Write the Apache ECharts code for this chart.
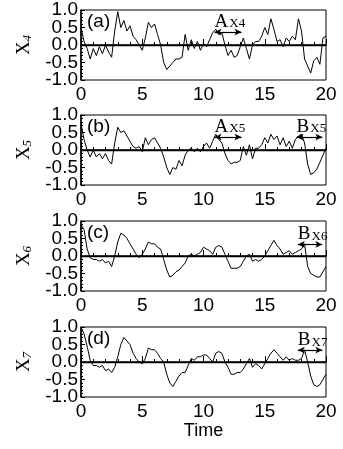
<!DOCTYPE html>
<html><head><meta charset="utf-8">
<script src="https://cdn.jsdelivr.net/npm/echarts@6/dist/echarts.min.js"></script>
<style>html,body{margin:0;padding:0;background:#fff}#c{width:343px;height:449px}</style>
</head><body><div id="c"></div>
<script>
// Time grid (step 0.25)
const time = [];
for (let i = 0; i <= 80; i++) time.push(i * 0.25);

const xTicks = [0, 5, 10, 15, 20];
const yTicks = [-1.0, -0.5, 0.0, 0.5, 1.0];
const panelLabels = ['(a)', '(b)', '(c)', '(d)'];
const varSubs = ['4', '5', '6', '7'];

const x4 = [0.5,0.1,-0.1,-0.4,-0.1,-0.3,-0.05,-0.25,0.0,-0.2,-0.35,0.4,0.95,0.5,0.7,0.4,0.55,0.25,0.15,0.0,
 -0.15,0.2,0.65,0.5,0.6,0.3,0.0,-0.5,-0.7,-0.6,-0.5,-0.4,-0.4,-0.35,0.3,-0.15,0.15,-0.1,0.1,-0.15,
 0.05,-0.05,0.15,0.35,0.45,0.3,0.35,0.0,-0.3,-0.15,-0.35,-0.3,-0.05,0.2,-0.1,-0.4,0.0,0.1,0.1,0.25,
 0.5,0.3,0.75,0.45,0.1,0.15,-0.05,0.2,0.1,0.25,0.15,0.75,0.4,-0.4,-0.6,-0.8,-0.45,-0.35,-0.55,0.2,0.25];
const x5 = [0.75,0.3,0.0,-0.2,0.0,-0.2,-0.1,-0.25,-0.1,-0.3,-0.4,0.2,0.65,0.5,0.55,0.4,0.25,0.1,0.05,0.1,
 -0.05,0.35,0.15,0.3,0.35,0.2,0.05,-0.2,-0.5,-0.7,-0.5,-0.55,-0.3,-0.45,-0.15,0.0,0.05,-0.05,0.05,-0.05,
 0.1,0.2,0.05,0.25,0.45,0.3,0.2,-0.1,-0.3,-0.4,-0.35,-0.35,-0.3,0.1,-0.15,0.15,-0.25,0.05,0.05,0.15,
 0.35,0.2,0.45,0.3,0.4,0.15,0.35,0.1,0.25,0.05,0.3,0.4,0.45,0.2,-0.4,-0.7,-0.65,-0.55,-0.35,-0.15,0.05];
const x6 = [0.9,0.75,0.2,-0.05,-0.1,-0.1,-0.15,-0.1,-0.2,-0.15,-0.3,0.0,0.4,0.65,0.6,0.5,0.35,0.2,0.05,-0.05,
 0.05,0.2,0.4,0.35,0.35,0.25,0.2,-0.1,-0.4,-0.6,-0.55,-0.45,-0.4,-0.3,-0.2,0.0,0.05,0.0,0.05,0.1,
 0.25,0.2,0.15,0.05,0.25,0.3,0.25,0.05,-0.15,-0.35,-0.35,-0.35,-0.3,-0.15,0.0,0.05,-0.15,-0.1,-0.15,-0.1,
 0.0,0.15,0.3,0.45,0.3,0.2,0.05,0.1,0.15,0.05,0.1,0.15,0.2,0.35,-0.3,-0.5,-0.55,-0.6,-0.6,-0.45,-0.3];
const x7 = [1.0,0.8,0.45,0.05,-0.1,-0.1,-0.15,-0.1,-0.25,-0.2,-0.3,-0.15,0.15,0.5,0.7,0.6,0.5,0.25,0.1,0.0,
 -0.05,0.1,0.4,0.35,0.35,0.25,0.1,0.0,-0.35,-0.6,-0.7,-0.55,-0.4,-0.3,-0.3,-0.1,0.1,0.05,0.15,0.15,
 0.2,0.2,0.1,0.0,0.25,0.3,0.25,0.0,-0.15,-0.35,-0.35,-0.3,-0.3,-0.2,-0.05,0.1,-0.15,-0.05,-0.1,-0.2,
 -0.05,0.1,0.25,0.35,0.25,0.15,0.05,0.15,0.05,0.1,0.05,0.05,0.1,0.35,0.0,-0.4,-0.65,-0.7,-0.65,-0.5,-0.35];
const seriesValues = [x4, x5, x6, x7];

// Annotations: [letter, subscript, startTime, endTime, level]
const annotations = [
  [['A', 'X4', 10.9, 13.1, 0.37]],
  [['A', 'X5', 10.9, 13.1, 0.37], ['B', 'X5', 17.6, 19.7, 0.37]],
  [['B', 'X6', 17.7, 19.7, 0.33]],
  [['B', 'X7', 17.7, 19.7, 0.34]]
];

const gridTops = [10, 115, 221, 327];
const gridH = 70, gridL = 81, gridR = 17;
const sans = 'Liberation Sans, Arial, sans-serif';
const serif = 'Liberation Serif, Times New Roman, serif';
const yLabelStyle = {color: '#000', fontFamily: sans, fontSize: 19, margin: 3, hideOverlap: false};

const grids = [], xAxes = [], yAxes = [], series = [], graphics = [];
for (let p = 0; p < 4; p++) {
  grids.push({left: gridL, right: gridR, top: gridTops[p], height: gridH, show: true,
    borderColor: '#000', borderWidth: 1, backgroundColor: 'transparent'});
  xAxes.push({gridIndex: p, type: 'value', min: xTicks[0], max: xTicks[xTicks.length-1], interval: 5,
    axisLine: {lineStyle: {color: '#000', width: 1.5}},
    axisTick: {inside: true, length: 6, lineStyle: {color: '#000'}},
    minorTick: {show: true, splitNumber: 5, length: 3, lineStyle: {color: '#000'}},
    splitLine: {show: false},
    axisLabel: {color: '#000', fontFamily: sans, fontSize: 19, margin: 5},
    name: p === 3 ? 'Time' : '', nameLocation: 'middle', nameGap: 24,
    nameTextStyle: {color: '#000', fontFamily: sans, fontSize: 18}});
  // main y axis: line, ticks, labels at +-0.5
  yAxes.push({gridIndex: p, type: 'value', min: yTicks[0], max: yTicks[yTicks.length-1], interval: 0.5,
    axisLine: {lineStyle: {color: '#000', width: 1.5}},
    axisTick: {inside: true, length: 4, lineStyle: {color: '#000'}},
    minorTick: {show: true, splitNumber: 5, length: 2, lineStyle: {color: '#000'}},
    splitLine: {show: false},
    axisLabel: Object.assign({}, yLabelStyle, {
      formatter: v => (Math.abs(Math.abs(v) - 0.5) < 1e-6 ? v.toFixed(1) : '')}),
    name: '{x|X}{s|' + varSubs[p] + '}', nameLocation: 'middle', nameGap: 44, nameRotate: 90,
    nameTextStyle: {color: '#000', rich: {
      x: {fontFamily: serif, fontSize: 19, color: '#000'},
      s: {fontFamily: serif, fontSize: 13, fontStyle: 'italic', color: '#000', padding: [8, 0, 0, 0]}}}});
  // companion y axis: labels at -1, 0, 1
  yAxes.push({gridIndex: p, type: 'value', min: yTicks[0], max: yTicks[yTicks.length-1], interval: 1,
    position: 'left', offset: 0,
    axisLine: {show: false}, axisTick: {show: false}, splitLine: {show: false},
    axisLabel: Object.assign({}, yLabelStyle, {showMinLabel: true, showMaxLabel: true,
      formatter: v => v.toFixed(1)})});
  const mlData = [];
  mlData.push([{coord: [xTicks[0], 0], symbol: 'none'}, {coord: [xTicks[xTicks.length-1], 0], symbol: 'none',
    lineStyle: {color: '#000', width: 1.3, type: 'solid'}}]);
  annotations[p].forEach(a => {
    mlData.push([
      {coord: [a[2], a[4]], symbol: 'arrow', symbolSize: [5, 7],
        label: {show: true, position: 'insideStartTop', distance: [0, 1],
          formatter: '{l|' + a[0] + '}{s|' + a[1] + '}',
          rich: {l: {fontFamily: serif, fontSize: 19, color: '#000'},
                 s: {fontFamily: serif, fontSize: 13, color: '#000', padding: [5, 0, 0, 1]}}}},
      {coord: [a[3], a[4]], symbol: 'arrow', symbolSize: [5, 7]}
    ]);
  });
  series.push({type: 'line', xAxisIndex: p, yAxisIndex: 2 * p, showSymbol: false, symbol: 'none',
    data: time.map((t, i) => [t, seriesValues[p][i]]),
    lineStyle: {color: '#000', width: 1}, z: 3,
    markLine: {silent: true, symbol: 'none', animation: false,
      lineStyle: {color: '#000', width: 1.2, type: 'solid'},
      label: {show: false}, data: mlData}});
  graphics.push({type: 'text', left: gridL + 6, top: gridTops[p] + 2,
    style: {text: panelLabels[p], font: '19px ' + sans, fill: '#000'}});
}

const chart = echarts.init(document.getElementById('c'), null, {renderer: 'canvas'});
chart.setOption({animation: false, backgroundColor: '#fff', grid: grids, xAxis: xAxes, yAxis: yAxes,
  series: series, graphic: graphics});
</script></body></html>
